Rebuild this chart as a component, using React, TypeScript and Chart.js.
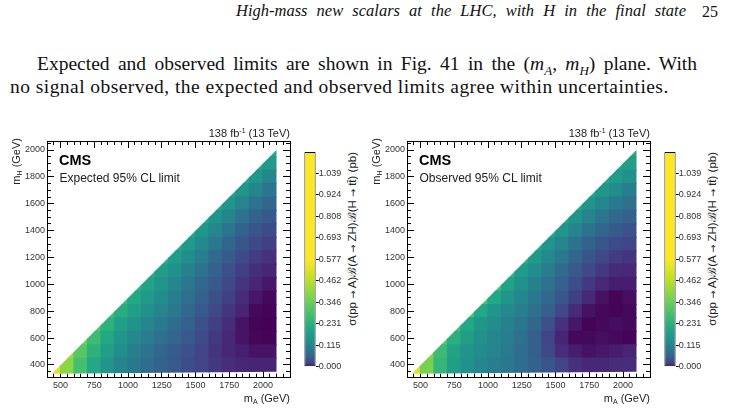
import React, { useEffect, useRef } from "react";
import { Chart, registerables } from "chart.js";

Chart.register(...registerables);

// ---------------- data ----------------
const MA_CENTERS = [450, 550, 650, 750, 850, 950, 1050, 1150, 1250, 1350, 1450, 1550, 1650, 1750, 1850, 1950, 2050];
const MH_CENTERS = [400, 500, 600, 700, 800, 900, 1000, 1100, 1200, 1300, 1400, 1500, 1600, 1700, 1800, 1900, 2000];

// row i : m_H = MH_CENTERS[i], values for m_A = MA_CENTERS[i], MA_CENTERS[i+1], ... (pb)
const EXPECTED_LIMIT = [
  [0.521, 0.397, 0.283, 0.208, 0.156, 0.117, 0.092, 0.075, 0.059, 0.045, 0.033, 0.023, 0.017, 0.011, 0.008, 0.006, 0.006],
  [0.417, 0.316, 0.236, 0.181, 0.139, 0.107, 0.083, 0.063, 0.049, 0.036, 0.023, 0.015, 0.008, 0.005, 0.003, 0.003],
  [0.351, 0.267, 0.208, 0.162, 0.127, 0.102, 0.079, 0.063, 0.045, 0.031, 0.017, 0.008, 0.003, 0.001, 0.0005],
  [0.307, 0.236, 0.187, 0.150, 0.122, 0.097, 0.075, 0.055, 0.036, 0.021, 0.010, 0.003, 0.0005, 0.0002],
  [0.283, 0.222, 0.181, 0.144, 0.117, 0.092, 0.067, 0.045, 0.028, 0.015, 0.006, 0.0014, 0.0005],
  [0.259, 0.208, 0.168, 0.139, 0.107, 0.079, 0.055, 0.036, 0.021, 0.010, 0.0037, 0.0014],
  [0.244, 0.194, 0.156, 0.122, 0.092, 0.067, 0.045, 0.028, 0.015, 0.007, 0.0037],
  [0.229, 0.181, 0.144, 0.112, 0.083, 0.055, 0.036, 0.021, 0.011, 0.007],
  [0.222, 0.175, 0.133, 0.102, 0.071, 0.049, 0.031, 0.019, 0.013],
  [0.215, 0.168, 0.127, 0.092, 0.063, 0.042, 0.028, 0.021],
  [0.208, 0.162, 0.122, 0.088, 0.059, 0.042, 0.031],
  [0.208, 0.156, 0.117, 0.083, 0.059, 0.045],
  [0.208, 0.156, 0.117, 0.083, 0.063],
  [0.208, 0.156, 0.117, 0.088],
  [0.208, 0.162, 0.122],
  [0.208, 0.168],
  [0.208],
];

const OBSERVED_LIMIT = [
  [0.521, 0.369, 0.251, 0.181, 0.144, 0.122, 0.107, 0.092, 0.075, 0.059, 0.042, 0.023, 0.013, 0.008, 0.008, 0.010, 0.011],
  [0.388, 0.267, 0.194, 0.156, 0.133, 0.117, 0.097, 0.075, 0.052, 0.028, 0.011, 0.0047, 0.0028, 0.0037, 0.0047, 0.0058],
  [0.316, 0.229, 0.181, 0.144, 0.122, 0.102, 0.079, 0.052, 0.023, 0.006, 0.0014, 0.0014, 0.0021, 0.0014, 0.0005],
  [0.283, 0.208, 0.162, 0.133, 0.112, 0.088, 0.063, 0.036, 0.013, 0.0037, 0.0005, 0.0014, 0.0021, 0.0014],
  [0.299, 0.208, 0.156, 0.127, 0.102, 0.079, 0.052, 0.028, 0.0098, 0.0028, 0.0014, 0.0005, 0.0014],
  [0.299, 0.208, 0.156, 0.122, 0.092, 0.067, 0.042, 0.021, 0.0083, 0.0028, 0.0009, 0.0021],
  [0.283, 0.194, 0.144, 0.112, 0.083, 0.055, 0.033, 0.0167, 0.0083, 0.0047, 0.0047],
  [0.244, 0.175, 0.133, 0.102, 0.071, 0.045, 0.028, 0.0167, 0.0098, 0.0083],
  [0.222, 0.168, 0.127, 0.092, 0.063, 0.042, 0.028, 0.0187, 0.0148],
  [0.208, 0.156, 0.117, 0.083, 0.059, 0.042, 0.031, 0.025],
  [0.208, 0.156, 0.117, 0.083, 0.063, 0.049, 0.039],
  [0.208, 0.156, 0.117, 0.088, 0.067, 0.055],
  [0.208, 0.156, 0.122, 0.097, 0.079],
  [0.208, 0.162, 0.133, 0.107],
  [0.208, 0.168, 0.144],
  [0.208, 0.181],
  [0.208],
];

// kinematic region (m_A, m_H) covered by the scan
const TRIANGLE = [[437, 335], [2100, 2000], [2100, 350]];

const X_TICKS = [500, 750, 1000, 1250, 1500, 1750, 2000];
const Y_TICKS = [400, 600, 800, 1000, 1200, 1400, 1600, 1800, 2000];
const Z_TICKS = [0, 0.11547, 0.23094, 0.34641, 0.46188, 0.57735, 0.69282, 0.80829, 0.92376, 1.03923];
const Z_MAX = 1.1547;
const X_RANGE = [400, 2200];
const Y_RANGE = [305, 2067];

// ---------------- style ----------------
const CMAP: [number, string][] = [
  [0, "#440154"], [0.0058, "#482475"], [0.0231, "#414487"], [0.0519, "#355f8d"],
  [0.0923, "#2a788e"], [0.1443, "#21918c"], [0.2077, "#22a884"], [0.2827, "#44bf70"],
  [0.3693, "#7ad151"], [0.4674, "#bddf26"], [0.577, "#fde725"], [1.1547, "#fde725"],
];

const SANS = "'Liberation Sans', Arial, Helvetica, sans-serif";
const SERIF = "'Liberation Serif', 'Times New Roman', serif";
const TICK_FONT = { family: "Liberation Sans", size: 9 };
const TICK_COLOR = "#333";

function hexRgb(h: string) {
  return [parseInt(h.slice(1, 3), 16), parseInt(h.slice(3, 5), 16), parseInt(h.slice(5, 7), 16)];
}
function colorFor(v: number) {
  if (v <= CMAP[0][0]) return CMAP[0][1];
  for (let k = 1; k < CMAP.length; k++) {
    if (v <= CMAP[k][0]) {
      const [v0, c0] = CMAP[k - 1];
      const [v1, c1] = CMAP[k];
      const f = (v - v0) / (v1 - v0);
      const a = hexRgb(c0), b = hexRgb(c1);
      const m = a.map((x, i) => Math.round(x + (b[i] - x) * f));
      return `rgb(${m[0]},${m[1]},${m[2]})`;
    }
  }
  return CMAP[CMAP.length - 1][1];
}

const triangleClip = {
  id: "triangleClip",
  beforeDatasetsDraw(chart: any) {
    const { ctx, scales } = chart;
    const sx = scales.x, sy = scales.y;
    ctx.save();
    ctx.beginPath();
    TRIANGLE.forEach(([a, h], k) => {
      const px = sx.getPixelForValue(a), py = sy.getPixelForValue(h);
      if (k === 0) ctx.moveTo(px, py); else ctx.lineTo(px, py);
    });
    ctx.closePath();
    ctx.clip();
  },
  afterDatasetsDraw(chart: any) {
    chart.ctx.restore();
  },
};

function frameAxis(position: string, range: number[], opts: any) {
  const horizontal = position === "top" || position === "bottom";
  const { major, labels, len, weight, size } = opts;
  const cfg: any = {
    type: "linear",
    position,
    min: range[0],
    max: range[1],
    offset: false,
    weight,
    ticks: {
      display: !!labels,
      font: TICK_FONT,
      color: TICK_COLOR,
      padding: opts.padding ?? 0,
      autoSkip: false,
      maxRotation: 0,
      includeBounds: false,
      callback: (v: any) => String(v),
    },
    grid: {
      display: true,
      drawOnChartArea: false,
      drawTicks: true,
      tickLength: -len,
      tickColor: "#000",
      tickWidth: 1,
      offset: false,
    },
    border: { display: !!opts.border, color: "#000", width: 1 },
    afterFit: (s: any) => {
      if (horizontal) s.height = size; else s.width = size;
    },
  };
  if (major) {
    cfg.afterBuildTicks = (s: any) => {
      s.ticks = major.map((v: number) => ({ value: v }));
    };
  } else {
    cfg.ticks.stepSize = 50;
  }
  return cfg;
}

function heatConfig(values: number[][]) {
  const datasets = values.map((row, i) => ({
    xAxisID: "x",
    yAxisID: "y",
    data: row.map((v, j) => ({
      x: MA_CENTERS[i + j],
      y: [i === 0 ? MH_CENTERS[i] - 100 : MH_CENTERS[i] - 50, MH_CENTERS[i] + 50],
      v,
    })),
    backgroundColor: (c: any) => colorFor(c.raw ? c.raw.v : 0),
    borderWidth: 0,
    grouped: false,
    barPercentage: 1,
    categoryPercentage: 1,
    inflateAmount: 0.6,
  }));
  return {
    type: "bar" as const,
    data: { datasets },
    options: {
      responsive: false,
      animation: false as const,
      events: [],
      layout: { padding: { left: 0, top: 21, right: 10, bottom: 12.3 } },
      plugins: { legend: { display: false }, tooltip: { enabled: false } },
      scales: {
        x: frameAxis("bottom", X_RANGE, { major: X_TICKS, labels: true, len: 7, weight: 1, size: 20, padding: 9, border: true }),
        y: frameAxis("left", Y_RANGE, { major: Y_TICKS, labels: true, len: 7, weight: 1, size: 47, padding: 9, border: true }),
        xMinor: frameAxis("bottom", X_RANGE, { len: 4, weight: 0, size: 0 }),
        yMinor: frameAxis("left", Y_RANGE, { len: 4, weight: 0, size: 0 }),
        xTop: frameAxis("top", X_RANGE, { major: X_TICKS, len: 7, weight: 1, size: 0, border: true }),
        xTopMinor: frameAxis("top", X_RANGE, { len: 4, weight: 0, size: 0 }),
        yRight: frameAxis("right", Y_RANGE, { major: Y_TICKS, len: 7, weight: 1, size: 0, border: true }),
        yRightMinor: frameAxis("right", Y_RANGE, { len: 4, weight: 0, size: 0 }),
      },
    },
    plugins: [triangleClip],
  };
}

function colorbarConfig() {
  return {
    type: "bar" as const,
    data: {
      labels: [""],
      datasets: [
        {
          data: [[0, Z_MAX]],
          backgroundColor: (c: any) => {
            const chart = c.chart;
            const sy = chart.scales && chart.scales.y;
            const y0 = sy ? sy.getPixelForValue(0) : NaN;
            const y1 = sy ? sy.getPixelForValue(Z_MAX) : NaN;
            if (!isFinite(y0) || !isFinite(y1) || y0 === y1) return CMAP[0][1];
            const g = chart.ctx.createLinearGradient(0, y0, 0, y1);
            CMAP.forEach(([v, col]) => g.addColorStop(Math.min(1, v / Z_MAX), col));
            return g;
          },
          borderColor: "#000",
          borderWidth: 1,
          borderSkipped: false,
          barPercentage: 1,
          categoryPercentage: 1,
          inflateAmount: 0,
        },
      ],
    },
    options: {
      responsive: false,
      animation: false as const,
      events: [],
      layout: { padding: { left: 4.3, top: 12, right: 0, bottom: 13.3 } },
      plugins: { legend: { display: false }, tooltip: { enabled: false } },
      scales: {
        x: { display: false },
        y: {
          position: "right",
          min: 0,
          max: Z_MAX,
          afterBuildTicks: (s: any) => {
            s.ticks = Z_TICKS.map((v) => ({ value: v }));
          },
          ticks: {
            font: TICK_FONT,
            color: TICK_COLOR,
            padding: 0,
            autoSkip: false,
            callback: (v: any) => Number(v).toFixed(3),
          },
          grid: { drawOnChartArea: false, drawTicks: true, tickLength: 3, tickColor: "#000" },
          border: { display: false },
          afterFit: (s: any) => {
            s.width = 29.3;
          },
        },
      },
    },
  };
}

function Rotated({ x, yTop, len, size, children }: any) {
  const lh = size * 1.2;
  return (
    <div
      style={{
        position: "absolute",
        left: x - lh / 2,
        top: yTop + len,
        width: len,
        height: lh,
        lineHeight: `${lh}px`,
        fontSize: size,
        fontFamily: SANS,
        color: "#222",
        textAlign: "right",
        whiteSpace: "nowrap",
        transform: "rotate(-90deg)",
        transformOrigin: "0 0",
      }}
    >
      {children}
    </div>
  );
}

const Arrow = () => <span style={{ fontFamily: "'DejaVu Sans', sans-serif", fontSize: 9.5 }}>→</span>;

function Panel({ ox, label, values }: { ox: number; label: string; values: number[][] }) {
  const heatRef = useRef<HTMLCanvasElement>(null);
  const barRef = useRef<HTMLCanvasElement>(null);
  useEffect(() => {
    const heat = new Chart(heatRef.current as HTMLCanvasElement, heatConfig(values) as any);
    const bar = new Chart(barRef.current as HTMLCanvasElement, colorbarConfig() as any);
    return () => {
      heat.destroy();
      bar.destroy();
    };
  }, [values]);
  const txt = (extra: any) => ({
    position: "absolute" as const,
    fontFamily: SANS,
    color: "#222",
    lineHeight: 1,
    whiteSpace: "nowrap" as const,
    ...extra,
  });
  return (
    <>
      <canvas ref={heatRef} width={300} height={290} style={{ position: "absolute", left: ox, top: 120, width: 300, height: 290 }} />
      <canvas ref={barRef} width={45} height={240} style={{ position: "absolute", left: ox + 300, top: 140, width: 45, height: 240 }} />
      <div style={txt({ left: ox + 150, top: 128, width: 140, textAlign: "right", fontSize: 11 })}>
        138 fb<sup style={{ fontSize: 7, verticalAlign: "4px", lineHeight: 0 }}>-1</sup> (13 TeV)
      </div>
      <div style={txt({ left: ox + 59, top: 153, fontSize: 14.5, fontWeight: "bold", color: "#000" })}>CMS</div>
      <div style={txt({ left: ox + 59.5, top: 171.5, fontSize: 12 })}>{label}</div>
      <div style={txt({ left: ox + 190, top: 392.5, width: 100, textAlign: "right", fontSize: 11 })}>
        m<sub style={{ fontSize: 7, verticalAlign: "-2px", lineHeight: 0 }}>A</sub> (GeV)
      </div>
      <Rotated x={ox + 17} yTop={138} len={60} size={11}>
        m<sub style={{ fontSize: 7, verticalAlign: "-2px", lineHeight: 0 }}>H</sub> (GeV)
      </Rotated>
      <Rotated x={ox + 353} yTop={152} len={200} size={11.5}>
        σ(pp <Arrow /> A)ℬ(A <Arrow /> ZH)ℬ(H <Arrow /> tt̄) (pb)
      </Rotated>
    </>
  );
}

export default function App() {
  const line = (extra: any) => ({
    position: "absolute" as const,
    fontFamily: SERIF,
    color: "#111",
    lineHeight: 1,
    ...extra,
  });
  return (
    <div style={{ position: "fixed", left: 0, top: 0, width: 733, height: 410, background: "#fff", overflow: "hidden" }}>
      <div style={line({ left: 236, top: 3.2, width: 450, fontSize: 16.5, fontStyle: "italic", textAlign: "justify", textAlignLast: "justify" })}>
        High-mass new scalars at the LHC, with H in the final state
      </div>
      <div style={line({ left: 702, top: 3.6, fontSize: 16 })}>25</div>
      <div style={line({ left: 37, top: 53.8, width: 660, fontSize: 19.5, textAlign: "justify", textAlignLast: "justify" })}>
        Expected and observed limits are shown in Fig. 41 in the (<i>m</i>
        <sub style={{ fontSize: 13, fontStyle: "italic", lineHeight: 0 }}>A</sub>, <i>m</i>
        <sub style={{ fontSize: 13, fontStyle: "italic", lineHeight: 0 }}>H</sub>) plane. With
      </div>
      <div style={line({ left: 10, top: 76.8, fontSize: 19.5, letterSpacing: 0.45, whiteSpace: "nowrap" })}>
        no signal observed, the expected and observed limits agree within uncertainties.
      </div>
      <Panel ox={0} label="Expected 95% CL limit" values={EXPECTED_LIMIT} />
      <Panel ox={360} label="Observed 95% CL limit" values={OBSERVED_LIMIT} />
    </div>
  );
}
